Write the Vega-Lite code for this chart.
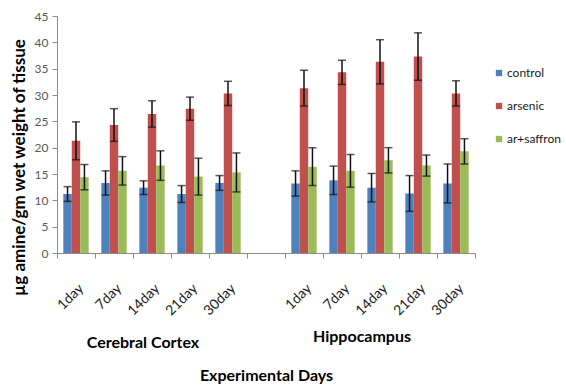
{
  "$schema": "https://vega.github.io/schema/vega-lite/v6.json",
  "width": 418,
  "height": 237,
  "autosize": "none",
  "padding": {"left": 57, "top": 16, "right": 91, "bottom": 132},
  "background": "white",
  "config": {
    "view": {"stroke": null},
    "font": "Lato",
    "axis": {"domainColor": "#8c8c8c", "tickColor": "#8c8c8c", "grid": false},
    "axisY": {"labelOverlap": false, "tickSize": 5, "labelFontSize": 12, "labelColor": "#595959", "labelPadding": 4}
  },
  "data": {
    "values": [
      {"slot": "CC 1day", "series": "control", "value": 11.2, "lo": 9.8, "hi": 12.6},
      {"slot": "CC 1day", "series": "arsenic", "value": 21.3, "lo": 17.7, "hi": 24.9},
      {"slot": "CC 1day", "series": "ar+saffron", "value": 14.4, "lo": 12.0, "hi": 16.8},
      {"slot": "CC 7day", "series": "control", "value": 13.3, "lo": 11.0, "hi": 15.6},
      {"slot": "CC 7day", "series": "arsenic", "value": 24.3, "lo": 21.2, "hi": 27.4},
      {"slot": "CC 7day", "series": "ar+saffron", "value": 15.6, "lo": 12.9, "hi": 18.3},
      {"slot": "CC 14day", "series": "control", "value": 12.4, "lo": 11.1, "hi": 13.7},
      {"slot": "CC 14day", "series": "arsenic", "value": 26.4, "lo": 23.9, "hi": 28.9},
      {"slot": "CC 14day", "series": "ar+saffron", "value": 16.6, "lo": 13.8, "hi": 19.4},
      {"slot": "CC 21day", "series": "control", "value": 11.2, "lo": 9.6, "hi": 12.8},
      {"slot": "CC 21day", "series": "arsenic", "value": 27.4, "lo": 25.2, "hi": 29.6},
      {"slot": "CC 21day", "series": "ar+saffron", "value": 14.5, "lo": 11.0, "hi": 18.0},
      {"slot": "CC 30day", "series": "control", "value": 13.3, "lo": 11.9, "hi": 14.7},
      {"slot": "CC 30day", "series": "arsenic", "value": 30.3, "lo": 28.0, "hi": 32.6},
      {"slot": "CC 30day", "series": "ar+saffron", "value": 15.3, "lo": 11.6, "hi": 19.0},
      {"slot": "HC 1day", "series": "control", "value": 13.2, "lo": 10.8, "hi": 15.6},
      {"slot": "HC 1day", "series": "arsenic", "value": 31.3, "lo": 27.9, "hi": 34.7},
      {"slot": "HC 1day", "series": "ar+saffron", "value": 16.4, "lo": 12.8, "hi": 20.0},
      {"slot": "HC 7day", "series": "control", "value": 13.8, "lo": 11.1, "hi": 16.5},
      {"slot": "HC 7day", "series": "arsenic", "value": 34.3, "lo": 32.0, "hi": 36.6},
      {"slot": "HC 7day", "series": "ar+saffron", "value": 15.6, "lo": 12.5, "hi": 18.7},
      {"slot": "HC 14day", "series": "control", "value": 12.4, "lo": 9.7, "hi": 15.1},
      {"slot": "HC 14day", "series": "arsenic", "value": 36.3, "lo": 32.1, "hi": 40.5},
      {"slot": "HC 14day", "series": "ar+saffron", "value": 17.6, "lo": 15.2, "hi": 20.0},
      {"slot": "HC 21day", "series": "control", "value": 11.3, "lo": 7.9, "hi": 14.7},
      {"slot": "HC 21day", "series": "arsenic", "value": 37.3, "lo": 32.8, "hi": 41.8},
      {"slot": "HC 21day", "series": "ar+saffron", "value": 16.6, "lo": 14.6, "hi": 18.6},
      {"slot": "HC 30day", "series": "control", "value": 13.2, "lo": 9.5, "hi": 16.9},
      {"slot": "HC 30day", "series": "arsenic", "value": 30.3, "lo": 27.9, "hi": 32.7},
      {"slot": "HC 30day", "series": "ar+saffron", "value": 19.3, "lo": 16.9, "hi": 21.7}
    ]
  },
  "layer": [
    {
      "mark": {"type": "bar"},
      "encoding": {
        "x": {
          "field": "slot",
          "type": "nominal",
          "scale": {
            "domain": ["CC 1day", "CC 7day", "CC 14day", "CC 21day", "CC 30day", "gap", "HC 1day", "HC 7day", "HC 14day", "HC 21day", "HC 30day"],
            "paddingInner": 0,
            "paddingOuter": 0
          },
          "axis": {
            "tickBand": "extent",
            "tickSize": 5,
            "labelAngle": -45,
            "labelPadding": 23,
            "labelFontSize": 14,
            "labelColor": "#1a1a1a",
            "labelOverlap": false,
            "labelExpr": "datum.label == 'gap' ? '' : split(datum.label, ' ')[1]",
            "title": "Experimental Days",
            "titleFontSize": 16,
            "titleFontWeight": "bold",
            "titleColor": "#000000",
            "titleY": 122,
            "titleBaseline": "middle"
          }
        },
        "xOffset": {
          "field": "series",
          "type": "nominal",
          "scale": {"domain": ["control", "arsenic", "ar+saffron"], "paddingInner": 0, "paddingOuter": 0.75}
        },
        "y": {
          "field": "value",
          "type": "quantitative",
          "scale": {"domain": [0, 45], "nice": false},
          "axis": {
            "values": [0, 5, 10, 15, 20, 25, 30, 35, 40, 45],
            "title": "µg  amine/gm wet weight of tissue",
            "titleFontSize": 17,
            "titleFontWeight": "bold",
            "titleColor": "#000000",
            "titleX": -38,
            "titleY": 151,
            "titleAngle": -90,
            "titleBaseline": "middle",
            "titleAlign": "center"
          }
        },
        "color": {
          "field": "series",
          "type": "nominal",
          "scale": {"domain": ["control", "arsenic", "ar+saffron"], "range": ["#4F81BD", "#C0504D", "#9BBB59"]},
          "legend": {
            "title": null,
            "orient": "none",
            "legendX": 436,
            "legendY": 51,
            "symbolType": "square",
            "symbolSize": 40,
            "symbolStrokeWidth": 0,
            "labelFontSize": 12,
            "labelColor": "#1a1a1a",
            "labelOffset": 2,
            "rowPadding": 21
          }
        }
      }
    },
    {
      "mark": {"type": "rule", "color": "#111111", "strokeWidth": 1.5},
      "encoding": {
        "x": {"field": "slot", "type": "nominal"},
        "xOffset": {"field": "series", "type": "nominal"},
        "y": {"field": "lo", "type": "quantitative", "axis": {"values": [0, 5, 10, 15, 20, 25, 30, 35, 40, 45]}},
        "y2": {"field": "hi"}
      }
    },
    {
      "mark": {"type": "tick", "color": "#111111", "size": 8, "thickness": 1.5},
      "encoding": {
        "x": {"field": "slot", "type": "nominal"},
        "xOffset": {"field": "series", "type": "nominal"},
        "y": {"field": "lo", "type": "quantitative", "axis": {"values": [0, 5, 10, 15, 20, 25, 30, 35, 40, 45]}}
      }
    },
    {
      "mark": {"type": "tick", "color": "#111111", "size": 8, "thickness": 1.5},
      "encoding": {
        "x": {"field": "slot", "type": "nominal"},
        "xOffset": {"field": "series", "type": "nominal"},
        "y": {"field": "hi", "type": "quantitative", "axis": {"values": [0, 5, 10, 15, 20, 25, 30, 35, 40, 45]}}
      }
    },
    {
      "data": {"values": [{"slot": "CC 14day", "label": "Cerebral Cortex"}]},
      "mark": {"type": "text", "y": {"expr": "height"}, "dy": 90, "dx": -9, "font": "Lato", "fontSize": 16, "fontWeight": "bold", "color": "#000000", "baseline": "middle"},
      "encoding": {
        "x": {"field": "slot", "type": "nominal"},
        "text": {"field": "label"}
      }
    },
    {
      "data": {"values": [{"slot": "HC 14day", "label": "Hippocampus"}]},
      "mark": {"type": "text", "y": {"expr": "height"}, "dy": 84, "dx": -18, "font": "Lato", "fontSize": 16, "fontWeight": "bold", "color": "#000000", "baseline": "middle"},
      "encoding": {
        "x": {"field": "slot", "type": "nominal"},
        "text": {"field": "label"}
      }
    }
  ]
}
